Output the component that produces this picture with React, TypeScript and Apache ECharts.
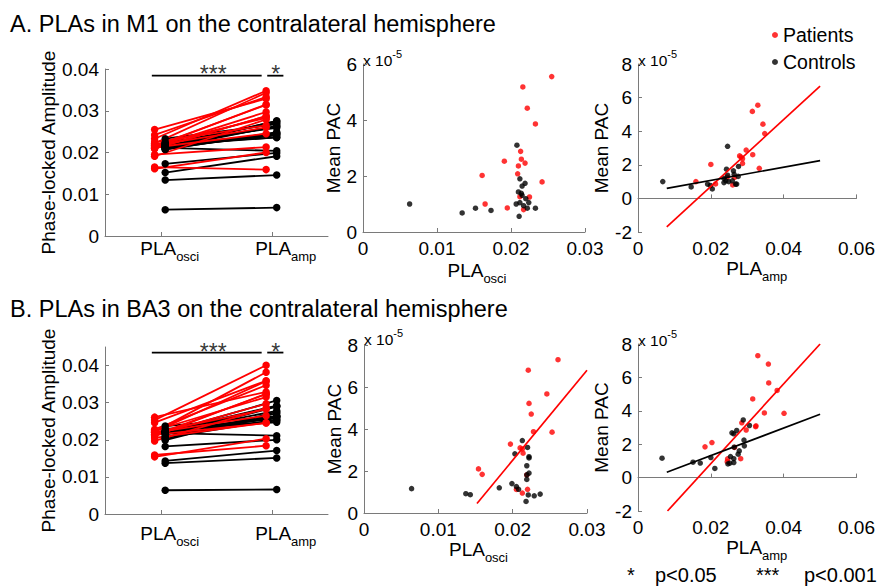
import React, { useEffect, useRef } from 'react';
import * as echarts from 'echarts';

const FONT = '"Liberation Sans", Arial, Helvetica, sans-serif';
const RED = '#ff0000';
const BLACK = '#000000';
const AXIS_COLOR = '#7a7a7a';

// ---------- Panel A: M1 (Mean PAC in units of 1e-5) ----------
const aPatientOsci = [0.0255, 0.0216, 0.0222, 0.0233, 0.0213, 0.0214, 0.0191, 0.0219, 0.0210, 0.0209, 0.0161, 0.0242, 0.0225, 0.0212, 0.0165, 0.0195, 0.0217];
const aPatientAmp = [0.0329, 0.0314, 0.0343, 0.0348, 0.0297, 0.0315, 0.0279, 0.0283, 0.0287, 0.0287, 0.0200, 0.0333, 0.0265, 0.0245, 0.0159, 0.0213, 0.0260];
const aPatientPac = [5.55, 5.18, 4.42, 3.86, 2.88, 2.60, 2.53, 2.46, 2.36, 2.08, 2.02, 1.79, 1.25, 1.26, 1.00, 0.86, 0.80];

const aControlOsci = [0.0208, 0.0212, 0.0219, 0.0215, 0.0210, 0.0214, 0.0215, 0.0220, 0.0224, 0.0207, 0.0212, 0.0217, 0.0222, 0.0233, 0.0211, 0.0173, 0.0063, 0.0134, 0.0152];
const aControlAmp = [0.0246, 0.0276, 0.0243, 0.0262, 0.0264, 0.0246, 0.0275, 0.0236, 0.0259, 0.0249, 0.0241, 0.0236, 0.0271, 0.0268, 0.0204, 0.0199, 0.0068, 0.0146, 0.0191];
const aControlPac = [3.10, 1.90, 1.74, 1.64, 1.43, 1.38, 1.31, 1.19, 1.05, 1.00, 1.05, 0.94, 0.85, 0.85, 0.56, 0.77, 1.00, 0.68, 0.85];

// ---------- Panel B: BA3 ----------
const bPatientOsci = [0.0261, 0.0221, 0.0246, 0.0222, 0.0225, 0.0228, 0.0253, 0.0197, 0.0213, 0.0210, 0.0214, 0.0154, 0.0159, 0.0219, 0.0205, 0.0220, 0.0213];
const bPatientAmp = [0.0329, 0.0358, 0.0359, 0.0382, 0.0315, 0.0347, 0.0401, 0.0285, 0.0323, 0.0324, 0.0297, 0.0203, 0.0184, 0.0265, 0.0246, 0.0282, 0.0245];
const bPatientPac = [7.30, 6.80, 5.67, 5.22, 4.71, 3.87, 3.85, 3.28, 3.05, 3.10, 2.85, 2.10, 1.84, 1.81, 1.12, 1.13, 0.95];

const bControlOsci = [0.0213, 0.0220, 0.0203, 0.0222, 0.0222, 0.0219, 0.0222, 0.0219, 0.0219, 0.0199, 0.0205, 0.0208, 0.0182, 0.0221, 0.0229, 0.0237, 0.0218, 0.0137, 0.0143, 0.0064];
const bControlAmp = [0.0289, 0.0306, 0.0271, 0.0258, 0.0263, 0.0291, 0.0292, 0.0264, 0.0278, 0.0275, 0.0254, 0.0263, 0.0200, 0.0252, 0.0247, 0.0263, 0.0211, 0.0151, 0.0171, 0.0066];
const bControlPac = [3.45, 3.12, 2.82, 2.68, 2.62, 2.25, 1.90, 1.82, 1.60, 1.40, 1.26, 1.13, 1.20, 0.86, 0.82, 0.90, 0.55, 0.92, 0.87, 1.16];

// ---------- Linear fits (endpoints) ----------
const aFitAmpPatients = [[0.0079, -1.69], [0.05, 6.68]];
const aFitAmpControls = [[0.0079, 0.60], [0.05, 2.25]];
const bFitOsciPatients = [[0.0152, 0.45], [0.030, 6.8]];
const bFitAmpPatients = [[0.0081, -2.0], [0.05, 8.0]];
const bFitAmpControls = [[0.0079, 0.32], [0.05, 3.79]];

// ---------- Conditions & significance ----------
const conditions = ['osci', 'amp'];
const conditionX = [1, 2];
const sigLabels = ['***', '*'];
const sigSpans = [[0.92, 1.905], [1.955, 2.1]];
const sigStarX = [1.47, 2.03];
const aSigY = 0.0384;
const bSigY = 0.0435;

// group offsets for the paired plot
const PAT_SHIFT = -0.055;
const CON_SHIFT = 0.04;

const txt = { fontFamily: FONT, color: '#000' };
const axisLine = { show: true, lineStyle: { color: AXIS_COLOR, width: 1 } };
const axisTick = { show: true, inside: true, length: 4, lineStyle: { color: AXIS_COLOR } };
const tickLabel = { ...txt, fontSize: 19 };

const subRich = (padM: number) => ({
  m: { ...txt, fontSize: 19, lineHeight: 19, verticalAlign: 'top', padding: [0, 0, 0, padM] },
  s: { ...txt, fontSize: 13, lineHeight: 13, verticalAlign: 'top', padding: [11, 0, 0, 0] },
});

const pairXAxis = (gridIndex: number, margin: number) => ({
  type: 'value', gridIndex, min: 0.5, max: 2.5,
  axisLine, axisTick: { ...axisTick, customValues: conditionX },
  axisLabel: {
    ...tickLabel, margin, customValues: conditionX,
    formatter: (v: number) => (v === conditionX[0] ? `{m1|PLA}{s|${conditions[0]}}` : `{m2|PLA}{s|${conditions[1]}}`),
    rich: { m1: subRich(18).m, m2: subRich(27).m, s: subRich(0).s },
  },
  splitLine: { show: false },
});

const valueXAxis = (gridIndex: number, max: number, interval: number, cond: number, nameGap: number) => ({
  type: 'value', gridIndex, min: 0, max, interval,
  axisLine, axisTick, axisLabel: { ...tickLabel, margin: 7 }, splitLine: { show: false },
  name: `{m|PLA}{s|${conditions[cond]}}`, nameLocation: 'middle', nameGap,
  nameTextStyle: { rich: subRich(cond === 0 ? 6 : 19) },
});

const valueYAxis = (gridIndex: number, min: number, max: number, interval: number, name: string, nameGap: number, custom?: number[]) => ({
  type: 'value', gridIndex, min, max, interval, position: 'left',
  axisLine, axisTick: custom ? { ...axisTick, customValues: custom } : axisTick,
  axisLabel: custom ? { ...tickLabel, margin: 6, customValues: custom } : { ...tickLabel, margin: 6 },
  splitLine: { show: false },
  name, nameLocation: 'middle', nameGap, nameTextStyle: { ...txt, fontSize: 19 },
});

const expYAxis = (gridIndex: number, min: number, max: number, nameGap: number) => ({
  type: 'value', gridIndex, min, max, position: 'left', offset: 0,
  axisLine: { show: false }, axisTick: { show: false }, axisLabel: { show: false }, splitLine: { show: false },
  name: '{a|x 10}{b|-5}', nameLocation: 'end', nameGap,
  nameTextStyle: {
    align: 'left', verticalAlign: 'bottom',
    rich: {
      a: { ...txt, fontSize: 15.5, lineHeight: 15, verticalAlign: 'top', padding: [4, 0, 0, 0] },
      b: { ...txt, fontSize: 11, lineHeight: 11, verticalAlign: 'top' },
    },
  },
});

const pairSeries = (axis: number, osci: number[], amp: number[], color: string, shift: number) =>
  osci.map((o, i) => ({
    type: 'line', xAxisIndex: axis, yAxisIndex: axis, silent: true,
    data: [[conditionX[0] + shift, o], [conditionX[1] + shift, amp[i]]],
    symbol: 'circle', symbolSize: 7.5, showSymbol: true,
    lineStyle: { color, width: 1.8 }, itemStyle: { color },
  }));

const sigSeries = (axis: number, y: number, starOffset: number) => [
  ...sigSpans.map((span) => ({
    type: 'line', xAxisIndex: axis, yAxisIndex: axis, silent: true, symbol: 'none',
    data: span.map((x) => [x, y]), lineStyle: { color: BLACK, width: 1.8 },
  })),
  {
    type: 'scatter', xAxisIndex: axis, yAxisIndex: axis, silent: true, symbolSize: 1,
    itemStyle: { color: 'rgba(0,0,0,0)' },
    data: sigLabels.map((s, i) => [sigStarX[i], y, s]),
    label: {
      show: true, position: 'inside', offset: [0, starOffset], ...txt, fontSize: 23, lineHeight: 23,
      formatter: (p: any) => p.value[2],
    },
  },
];

const scatterSeries = (xi: number, yi: number, xs: number[], ys: number[], color: string, name: string) => ({
  type: 'scatter', name, xAxisIndex: xi, yAxisIndex: yi, silent: true,
  data: xs.map((x, i) => [x, ys[i]]), symbol: 'circle', symbolSize: 5.5,
  itemStyle: { color },
});

const fitSeries = (xi: number, yi: number, pts: number[][], color: string) => ({
  type: 'line', xAxisIndex: xi, yAxisIndex: yi, silent: true, symbol: 'none',
  data: pts, lineStyle: { color, width: 1.7 },
});

const noteText = (x: number, text: string) => ({
  type: 'text', x, y: 575,
  style: { text, ...txt, fill: '#000', fontSize: 20, lineHeight: 20, textVerticalAlign: 'middle', verticalAlign: 'middle' },
});

const option: any = {
  animation: false,
  backgroundColor: '#ffffff',
  textStyle: { fontFamily: FONT },
  title: [
    { text: 'A. PLAs in M1 on the contralateral hemisphere', left: 10, top: 12, padding: 0,
      textStyle: { ...txt, fontSize: 23.5, fontWeight: 'normal' } },
    { text: 'B. PLAs in BA3 on the contralateral hemisphere', left: 10, top: 297, padding: 0,
      textStyle: { ...txt, fontSize: 23.5, fontWeight: 'normal' } },
  ],
  legend: {
    data: ['Patients', 'Controls'], orient: 'vertical', left: 772, top: 25, padding: 0,
    itemGap: 7, itemWidth: 6, itemHeight: 6, icon: 'circle',
    textStyle: { ...txt, fontSize: 19.5 }, selectedMode: false,
  },
  grid: [
    { left: 105, top: 69, width: 223, height: 167 },
    { left: 363, top: 64, width: 222, height: 168 },
    { left: 638, top: 64, width: 224, height: 168 },
    { left: 105, top: 347, width: 223, height: 167 },
    { left: 364, top: 345, width: 223, height: 168 },
    { left: 638, top: 344, width: 224, height: 167 },
  ],
  xAxis: [
    pairXAxis(0, 3),
    valueXAxis(1, 0.03, 0.01, 0, 29),
    valueXAxis(2, 0.06, 0.02, 1, 23),
    pairXAxis(3, 10),
    valueXAxis(4, 0.03, 0.01, 0, 23),
    valueXAxis(5, 0.06, 0.02, 1, 23),
  ],
  yAxis: [
    valueYAxis(0, 0, 0.04, 0.01, 'Phase-locked Amplitude', 44),
    valueYAxis(1, 0, 6, 2, 'Mean PAC', 18),
    valueYAxis(2, -2, 8, 2, 'Mean PAC', 24),
    valueYAxis(3, 0, 0.045, 0.01, 'Phase-locked Amplitude', 44, [0, 0.01, 0.02, 0.03, 0.04]),
    valueYAxis(4, 0, 8, 2, 'Mean PAC', 19),
    valueYAxis(5, -2, 8, 2, 'Mean PAC', 21),
    expYAxis(1, 0, 6, 1),
    expYAxis(2, -2, 8, 1),
    expYAxis(4, 0, 8, 3),
    expYAxis(5, -2, 8, 1),
  ],
  series: [
    // A1 paired
    ...pairSeries(0, aControlOsci, aControlAmp, BLACK, CON_SHIFT),
    ...pairSeries(0, aPatientOsci, aPatientAmp, RED, PAT_SHIFT),
    ...sigSeries(0, aSigY, -2),
    // A2
    scatterSeries(1, 1, aPatientOsci, aPatientPac, RED, 'Patients'),
    scatterSeries(1, 1, aControlOsci, aControlPac, BLACK, 'Controls'),
    // A3
    scatterSeries(2, 2, aPatientAmp, aPatientPac, RED, 'Patients'),
    scatterSeries(2, 2, aControlAmp, aControlPac, BLACK, 'Controls'),
    fitSeries(2, 2, aFitAmpPatients, RED),
    fitSeries(2, 2, aFitAmpControls, BLACK),
    // B1 paired
    ...pairSeries(3, bControlOsci, bControlAmp, BLACK, CON_SHIFT),
    ...pairSeries(3, bPatientOsci, bPatientAmp, RED, PAT_SHIFT),
    ...sigSeries(3, bSigY, -1),
    // B2
    scatterSeries(4, 4, bPatientOsci, bPatientPac, RED, 'Patients'),
    scatterSeries(4, 4, bControlOsci, bControlPac, BLACK, 'Controls'),
    fitSeries(4, 4, bFitOsciPatients, RED),
    // B3
    scatterSeries(5, 5, bPatientAmp, bPatientPac, RED, 'Patients'),
    scatterSeries(5, 5, bControlAmp, bControlPac, BLACK, 'Controls'),
    fitSeries(5, 5, bFitAmpPatients, RED),
    fitSeries(5, 5, bFitAmpControls, BLACK),
  ],
  graphic: [
    noteText(627, '*'),
    noteText(655, 'p<0.05'),
    noteText(756, '***'),
    noteText(804, 'p<0.001'),
  ],
};

export default function App() {
  const ref = useRef<HTMLDivElement>(null);
  useEffect(() => {
    if (!ref.current) return;
    const chart = echarts.init(ref.current, null, { renderer: 'svg' });
    chart.setOption(option);
    return () => chart.dispose();
  }, []);
  return (
    <div
      ref={ref}
      style={{ position: 'fixed', left: 0, top: 0, width: 878, height: 586, background: '#ffffff' }}
    />
  );
}
